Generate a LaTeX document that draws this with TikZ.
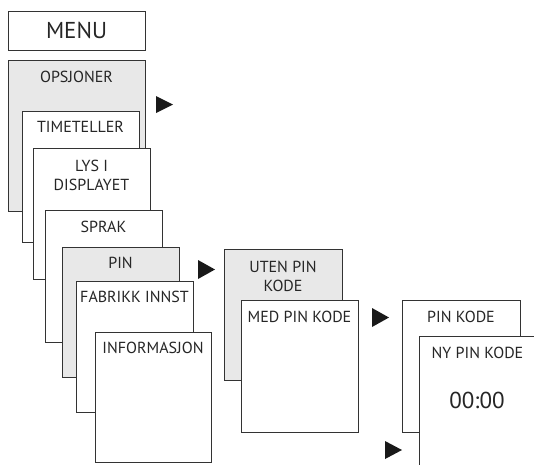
\documentclass[tikz,border=0pt]{standalone}
\usepackage{fontspec}
\setmainfont{PT Sans}
\begin{document}
\begin{tikzpicture}[x=1pt,y=-1pt,
  box/.style={draw=black!80,line width=1pt,fill=white,minimum width=117pt,minimum height=131pt,inner sep=0pt,outer sep=0pt},
  gbox/.style={box,fill=gray!18},
  lbl/.style={text=black!85,font=\fontsize{16}{19}\selectfont,inner sep=0pt,align=center},
  tri/.style={fill=black!90}]
\useasboundingbox (0,0) rectangle (534,464);
\clip (0,0) rectangle (534,464);
% menu
\node[box,minimum width=137pt,minimum height=39pt] (menu) at (76.5,30.5) {};
\node[lbl,font=\fontsize{23}{26}\selectfont] (tmenu) at (menu.center) {MENU};
\node[gbox,minimum width=137pt,minimum height=151pt] (opsj) at (76.5,135.5) {};
\node[lbl] (topsj) at ([yshift=-17pt]opsj.north) {OPSJONER};
\node[box] (time) at (80.5,176.5) {};
\node[lbl] (ttime) at ([yshift=-16pt]time.north) {TIMETELLER};
\node[box] (lys) at (91.5,213.5) {};
\node[lbl,font=\fontsize{16}{19}\selectfont] (tlys) at ([yshift=-27pt]lys.north) {LYS I\\DISPLAYET};
\node[box,minimum height=132pt] (sprak) at (103.5,276) {};
\node[lbl] (tsprak) at ([yshift=-17pt]sprak.north) {SPRAK};
\node[gbox,minimum height=130pt] (pin) at (120.5,312) {};
\node[lbl] (tpin) at ([yshift=-16pt]pin.north) {PIN};
\node[box] (fab) at (134.5,346.5) {};
\node[lbl] (tfab) at ([yshift=-16pt]fab.north) {FABRIKK INNST};
\node[box,minimum width=116pt,minimum height=130pt] (info) at (153,397) {};
\node[lbl] (tinfo) at ([yshift=-16pt]info.north) {INFORMASJON};
% second column
\node[gbox,minimum width=118pt] (uten) at (283,314.5) {};
\node[lbl] (tuten) at ([yshift=-27pt]uten.north) {UTEN PIN\\KODE};
\node[box,minimum height=132pt] (med) at (299.5,366) {};
\node[lbl] (tmed) at ([yshift=-17pt]med.north) {MED PIN KODE};
% third column
\node[box,minimum width=118pt,minimum height=132pt] (pk) at (461,366) {};
\node[lbl] (tpk) at ([yshift=-17pt]pk.north) {PIN KODE};
\node[box] (ny) at (477.5,401.5) {};
\node[lbl] (tny) at ([yshift=-17pt]ny.north) {NY PIN KODE};
\node[lbl,font=\fontsize{23}{27}\selectfont] (tzero) at (477,400) {00:00};
% arrows
\fill[tri] (156,96) -- (173,104.5) -- (156,113) -- cycle;
\fill[tri] (198,260) -- (215,269.5) -- (198,279) -- cycle;
\fill[tri] (372,308) -- (389,317.5) -- (372,327) -- cycle;
\fill[tri] (385,441) -- (402,450) -- (385,459) -- cycle;
\end{tikzpicture}
\end{document}
